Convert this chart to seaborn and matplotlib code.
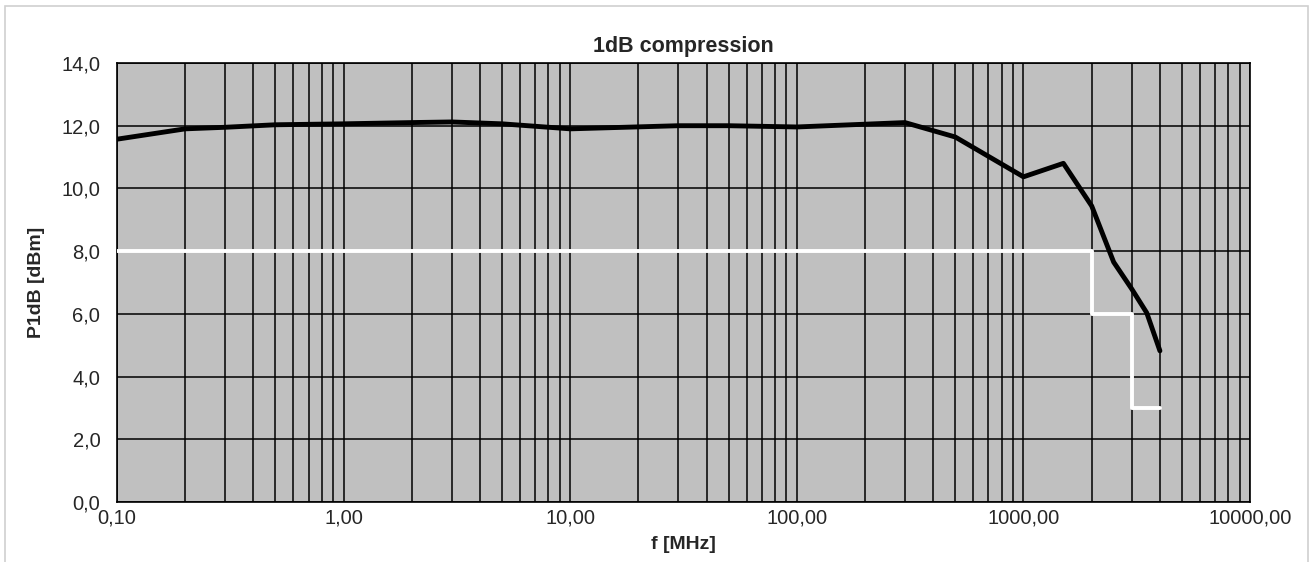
import matplotlib
matplotlib.use("Agg")
import matplotlib.pyplot as plt
import matplotlib.ticker as mticker
import seaborn as sns
import pandas as pd

# measured P1dB values
freq_mhz = [0.1, 0.2, 0.3, 0.5, 1, 2, 3, 5, 10, 30, 50, 100, 300, 500,
            1000, 1500, 2000, 2500, 3000, 3500, 4000]
p1db = [11.57, 11.9, 11.95, 12.03, 12.06, 12.1, 12.12, 12.06, 11.9, 12.0,
        12.0, 11.96, 12.1, 11.64, 10.37, 10.8, 9.44, 7.65, 6.8, 6.03, 4.82]

# specification limit (step)
spec_freq = [0.1, 2000, 3000, 4000]
spec_val = [8, 6, 3, 3]

df = pd.DataFrame({"f": freq_mhz, "p1db": p1db})
spec = pd.DataFrame({"f": spec_freq, "val": spec_val})

sns.set_style("white")
plt.rcParams["font.family"] = ["Liberation Sans", "DejaVu Sans"]

fig = plt.figure(figsize=(13.13, 5.62), dpi=100)
ax = fig.add_axes([0.0891, 0.1068, 0.8630, 0.7811])
ax.set_facecolor("#C0C0C0")

sns.lineplot(data=spec, x="f", y="val", ax=ax, color="white", linewidth=2.8,
             drawstyle="steps-post", zorder=3)
sns.lineplot(data=df, x="f", y="p1db", ax=ax, color="black", linewidth=3.5,
             zorder=4)

ax.set_xscale("log")
ax.set_xlim(0.1, 10000)
ax.set_ylim(0, 14)
ax.set_yticks([0, 2, 4, 6, 8, 10, 12, 14])
ax.yaxis.set_major_formatter(mticker.FuncFormatter(lambda v, p: f"{v:.1f}".replace(".", ",")))
ax.xaxis.set_major_locator(mticker.LogLocator(base=10, numticks=10))
ax.xaxis.set_minor_locator(mticker.LogLocator(base=10, subs=range(2, 10), numticks=20))
ax.xaxis.set_major_formatter(mticker.FuncFormatter(lambda v, p: f"{v:.2f}".replace(".", ",")))
ax.xaxis.set_minor_formatter(mticker.NullFormatter())

ax.grid(True, which="major", axis="both", color="black", linewidth=1.1, zorder=1)
ax.grid(True, which="minor", axis="x", color="black", linewidth=1.1, zorder=1)
ax.set_axisbelow(True)
for s in ax.spines.values():
    s.set_color("black")
    s.set_linewidth(1.2)

ax.tick_params(axis="x", which="both", length=0, labelsize=14.5, pad=5)
ax.tick_params(axis="y", which="both", length=0, labelsize=14.5, pad=12)
ax.set_title("1dB compression", fontsize=15.5, fontweight="bold", pad=8)
ax.set_xlabel("f [MHz]", fontsize=14, fontweight="bold", labelpad=6)
ax.set_ylabel("P1dB [dBm]", fontsize=14, fontweight="bold", labelpad=12)

# light outer frame
fig.patches.append(plt.Rectangle((0.004, -0.01), 0.992, 1.0, transform=fig.transFigure,
                                 fill=False, edgecolor="#D0D0D0", linewidth=1.2))

fig.savefig("out.png", dpi=100)
